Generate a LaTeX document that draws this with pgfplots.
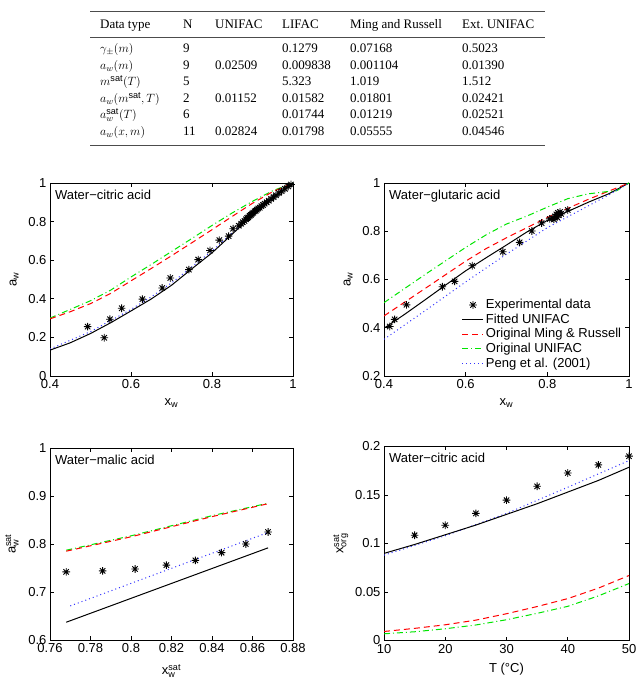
\documentclass[border=0pt]{standalone}
\usepackage{pgfplots}
\pgfplotsset{compat=1.18}
\usepackage{amsmath}
\usepackage{fontspec}
\setmainfont{Liberation Sans}
\newfontfamily\tabfont{Liberation Serif}

% MATLAB-like eight-spoke asterisk
\pgfdeclareplotmark{mstar}{%
  \pgfpathmoveto{\pgfpoint{-\pgfplotmarksize}{0pt}}\pgfpathlineto{\pgfpoint{\pgfplotmarksize}{0pt}}%
  \pgfpathmoveto{\pgfpoint{0pt}{-\pgfplotmarksize}}\pgfpathlineto{\pgfpoint{0pt}{\pgfplotmarksize}}%
  \pgfpathmoveto{\pgfpoint{-0.707\pgfplotmarksize}{-0.707\pgfplotmarksize}}\pgfpathlineto{\pgfpoint{0.707\pgfplotmarksize}{0.707\pgfplotmarksize}}%
  \pgfpathmoveto{\pgfpoint{-0.707\pgfplotmarksize}{0.707\pgfplotmarksize}}\pgfpathlineto{\pgfpoint{0.707\pgfplotmarksize}{-0.707\pgfplotmarksize}}%
  \pgfusepathqstroke}

\newcommand\lblfont{\fontsize{13}{15}\selectfont}

\tikzset{tag/.style={anchor=north west, font=\lblfont, inner sep=2pt}}

\pgfplotsset{
  panel/.style={scale only axis, width=243pt, height=193pt,
    tick align=inside, major tick length=4pt,
    axis line style={line width=0.7pt},
    every tick/.style={black, line width=0.6pt},
    ticklabel style={font=\lblfont},
    label style={font=\lblfont},
    xlabel shift=3pt, ylabel shift=3pt,
    scaled ticks=false,
    /pgf/number format/fixed,
    /pgf/number format/assume math mode=true,
    legend style={font=\lblfont}},
  exp/.style={only marks, mark=mstar, mark size=3.8pt, black, line width=0.9pt},
  fit/.style={black, line width=1pt, no marks},
  ming/.style={red, line width=1pt, dash pattern=on 6pt off 4pt, no marks},
  unif/.style={green!90!black, line width=1pt, dash pattern=on 6pt off 3pt on 1pt off 3pt, no marks},
  peng/.style={blue!80!white, line width=1pt, dash pattern=on 1pt off 3pt, no marks},
}

\newcommand\trow[7]{%
  \node[anchor=base west, inner sep=0pt] at (100pt,#1) {#2};
  \node[anchor=base west, inner sep=0pt] at (183pt,#1) {#3};
  \node[anchor=base west, inner sep=0pt] at (215pt,#1) {#4};
  \node[anchor=base west, inner sep=0pt] at (282pt,#1) {#5};
  \node[anchor=base west, inner sep=0pt] at (350pt,#1) {#6};
  \node[anchor=base west, inner sep=0pt] at (462pt,#1) {#7};}

\begin{document}
\begin{tikzpicture}
\path[use as bounding box] (0pt,0pt) rectangle (639pt,687pt);

% ---- table of fit deviations ----
\begingroup
\tabfont\fontsize{13}{15}\selectfont
\draw[line width=0.8pt, black!70] (90pt,676pt) -- (545pt,676pt);
\draw[line width=0.5pt, black!70] (90pt,650pt) -- (545pt,650pt);
\draw[line width=0.8pt, black!70] (90pt,542pt) -- (545pt,542pt);
\trow{658pt}{Data type}{N}{UNIFAC}{LIFAC}{Ming and Russell}{Ext.\ UNIFAC}
\trow{634pt}{$\gamma_{\pm}(m)$}{9}{}{0.1279}{0.07168}{0.5023}
\trow{617.5pt}{$a_w(m)$}{9}{0.02509}{0.009838}{0.001104}{0.01390}
\trow{601pt}{$m^{\mathrm{sat}}(T)$}{5}{}{5.323}{1.019}{1.512}
\trow{584.5pt}{$a_w(m^{\mathrm{sat}},T)$}{2}{0.01152}{0.01582}{0.01801}{0.02421}
\trow{568pt}{$a_w^{\mathrm{sat}}(T)$}{6}{}{0.01744}{0.01219}{0.02521}
\trow{551.5pt}{$a_w(x,m)$}{11}{0.02824}{0.01798}{0.05555}{0.04546}
\endgroup

% ---- water-citric acid activity ----
\begin{axis}[panel, at={(50pt,311pt)}, anchor=south west,
  xmin=0.4, xmax=1, ymin=0, ymax=1,
  xtick={0.4,0.6,0.8,1}, ytick={0,0.2,0.4,0.6,0.8,1},
  xlabel={$\text{x}_{\text{w}}$}, ylabel={$\text{a}_{\text{w}}$}]
\addplot[unif] coordinates {(0.40,0.300)(0.45,0.345)(0.50,0.390)(0.55,0.445)(0.60,0.513)(0.65,0.578)(0.70,0.645)(0.75,0.712)(0.80,0.780)(0.85,0.845)(0.90,0.905)(0.95,0.960)(1.00,1.000)};
\addplot[ming] coordinates {(0.40,0.296)(0.45,0.333)(0.50,0.375)(0.55,0.428)(0.60,0.493)(0.65,0.557)(0.70,0.623)(0.75,0.690)(0.80,0.758)(0.85,0.827)(0.90,0.895)(0.95,0.955)(1.00,1.000)};
\addplot[peng] coordinates {(0.40,0.140)(0.50,0.230)(0.60,0.345)(0.65,0.410)(0.70,0.482)(0.75,0.565)(0.80,0.648)(0.85,0.740)(0.90,0.837)(0.95,0.920)(1.00,1.000)};
\addplot[fit] coordinates {(0.40,0.134)(0.45,0.172)(0.50,0.220)(0.55,0.276)(0.60,0.337)(0.65,0.399)(0.70,0.470)(0.75,0.555)(0.80,0.638)(0.85,0.735)(0.90,0.835)(0.95,0.920)(1.00,1.000)};
\addplot[exp] coordinates {(0.493,0.256)(0.534,0.198)(0.548,0.294)(0.577,0.351)(0.628,0.398)(0.677,0.456)(0.697,0.508)(0.743,0.551)(0.766,0.603)(0.795,0.650)(0.818,0.704)(0.841,0.725)(0.852,0.763)
 (0.866,0.778)(0.872,0.789)(0.876,0.797)(0.880,0.803)(0.884,0.812)(0.887,0.818)(0.890,0.822)(0.893,0.830)(0.896,0.835)(0.899,0.841)(0.902,0.846)(0.905,0.853)(0.908,0.856)(0.911,0.862)(0.914,0.868)(0.918,0.872)(0.922,0.880)(0.926,0.886)(0.930,0.893)(0.935,0.900)(0.940,0.908)(0.946,0.918)(0.952,0.927)(0.958,0.937)(0.965,0.948)(0.972,0.958)(0.980,0.970)(0.988,0.982)(0.995,0.992)};
\node[tag] at (rel axis cs:0.012,0.975) {Water−citric acid};
\end{axis}

% ---- water-glutaric acid activity ----
\begin{axis}[panel, width=245pt, at={(384pt,311pt)}, anchor=south west,
  xmin=0.4, xmax=1, ymin=0.2, ymax=1,
  xtick={0.4,0.6,0.8,1}, ytick={0.2,0.4,0.6,0.8,1},
  xlabel={$\text{x}_{\text{w}}$}, ylabel={$\text{a}_{\text{w}}$},
  legend style={at={(rel axis cs:0.305,0.418)}, anchor=north west, draw=none, fill=none,
    cells={anchor=west}, row sep=-0.4pt},
  legend image code/.code={\draw[mark repeat=2,mark phase=2,#1] plot coordinates {(0cm,0cm) (0.37cm,0cm) (0.74cm,0cm)};}]
\addplot[exp] coordinates {(0.414,0.405)(0.426,0.435)(0.455,0.495)(0.543,0.570)(0.573,0.592)(0.616,0.657)(0.691,0.715)(0.732,0.754)(0.762,0.801)(0.786,0.834)(0.806,0.851)(0.812,0.855)(0.816,0.849)(0.819,0.862)(0.822,0.870)(0.824,0.858)(0.826,0.876)(0.828,0.866)(0.831,0.880)(0.834,0.872)(0.850,0.888)};
\addlegendentry{Experimental data}
\addplot[fit] coordinates {(0.40,0.398)(0.45,0.455)(0.50,0.515)(0.55,0.576)(0.60,0.636)(0.65,0.690)(0.70,0.743)(0.75,0.797)(0.80,0.845)(0.85,0.882)(0.90,0.920)(0.95,0.955)(1.00,1.000)};
\addlegendentry{Fitted UNIFAC}
\addplot[ming] coordinates {(0.40,0.449)(0.50,0.562)(0.60,0.676)(0.65,0.728)(0.70,0.773)(0.75,0.815)(0.80,0.857)(0.85,0.895)(0.90,0.932)(0.95,0.966)(1.00,1.000)};
\addlegendentry{Original Ming \& Russell}
\addplot[unif] coordinates {(0.40,0.504)(0.50,0.620)(0.60,0.733)(0.65,0.785)(0.70,0.830)(0.75,0.863)(0.80,0.900)(0.85,0.935)(0.90,0.955)(0.95,0.965)(0.97,0.968)(1.00,1.000)};
\addlegendentry{Original UNIFAC}
\addplot[peng] coordinates {(0.40,0.352)(0.50,0.470)(0.60,0.590)(0.70,0.705)(0.80,0.815)(0.85,0.860)(0.90,0.905)(0.95,0.950)(1.00,1.000)};
\addlegendentry{Peng et al. (2001)}
\node[tag] at (rel axis cs:0.012,0.975) {Water−glutaric acid};
\end{axis}

% ---- water-malic acid saturation ----
\begin{axis}[panel, height=192pt, at={(50pt,47pt)}, anchor=south west,
  xmin=0.76, xmax=0.88, ymin=0.6, ymax=1,
  xtick={0.76,0.78,0.8,0.82,0.84,0.86,0.88}, ytick={0.6,0.7,0.8,0.9,1},
  xlabel shift=5pt,
  xlabel={$\text{x}^{\text{sat}}_{\text{w}}$}, ylabel={$\text{a}^{\text{sat}}_{\text{w}}$}]
\addplot[unif] coordinates {(0.768,0.787)(0.80,0.817)(0.82,0.838)(0.84,0.859)(0.8677,0.885)};
\addplot[ming] coordinates {(0.768,0.785)(0.80,0.815)(0.82,0.836)(0.84,0.857)(0.8677,0.884)};
\addplot[peng] coordinates {(0.770,0.671)(0.8677,0.824)};
\addplot[fit] coordinates {(0.768,0.637)(0.8677,0.792)};
\addplot[exp] coordinates {(0.768,0.742)(0.786,0.744)(0.802,0.748)(0.8175,0.756)(0.8318,0.766)(0.8447,0.782)(0.8567,0.800)(0.8677,0.825)};
\node[tag] at (rel axis cs:0.012,0.975) {Water−malic acid};
\end{axis}

% ---- citric acid solubility vs temperature ----
\begin{axis}[panel, width=245pt, height=194pt, at={(384pt,46.5pt)}, anchor=south west,
  xmin=10, xmax=50, ymin=0, ymax=0.2,
  xtick={10,20,30,40,50}, ytick={0,0.05,0.1,0.15,0.2},
  xlabel={T (°C)}, ylabel={$\text{x}^{\text{sat}}_{\text{org}}$}, ylabel shift=0pt]
\addplot[unif] coordinates {(10,0.0069)(15,0.0090)(20,0.0121)(25,0.0160)(30,0.0214)(35,0.0280)(40,0.0352)(45,0.0460)(50,0.0587)};
\addplot[ming] coordinates {(10,0.0093)(15,0.0125)(20,0.0162)(25,0.0210)(30,0.0276)(35,0.0350)(40,0.0432)(45,0.0540)(50,0.0670)};
\addplot[peng] coordinates {(10,0.088)(20,0.108)(30,0.131)(40,0.158)(50,0.1855)};
\addplot[fit] coordinates {(10,0.0898)(15,0.099)(20,0.109)(25,0.119)(30,0.130)(35,0.141)(40,0.153)(45,0.165)(50,0.1786)};
\addplot[exp] coordinates {(15,0.1085)(20,0.1188)(25,0.131)(30,0.1447)(35,0.159)(40,0.1727)(45,0.181)(50,0.190)};
\node[tag] at (rel axis cs:0.012,0.975) {Water−citric acid};
\end{axis}
\end{tikzpicture}
\end{document}
